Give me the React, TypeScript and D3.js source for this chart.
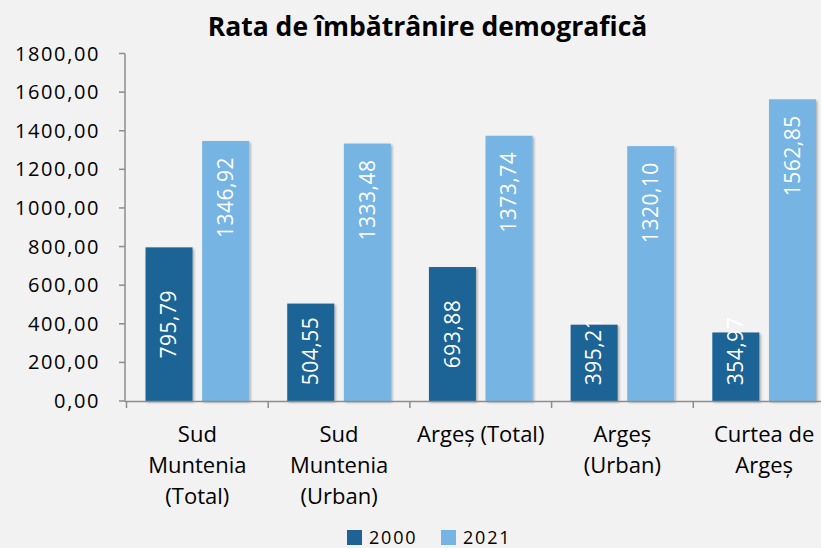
import React from "react";
import * as d3 from "d3";

const categories: string[][] = [
  ["Sud", "Muntenia", "(Total)"],
  ["Sud", "Muntenia", "(Urban)"],
  ["Argeș (Total)"],
  ["Argeș", "(Urban)"],
  ["Curtea de", "Argeș"],
];
const seriesNames = ["2000", "2021"];
const values2000 = [795.79, 504.55, 693.88, 395.21, 354.97];
const values2021 = [1346.92, 1333.48, 1373.74, 1320.1, 1562.85];
const labels2000 = ["795,79", "504,55", "693,88", "395,21", "354,97"];
const labels2021 = ["1346,92", "1333,48", "1373,74", "1320,10", "1562,85"];
const yTicks = [0, 200, 400, 600, 800, 1000, 1200, 1400, 1600, 1800];
const colors = ["#1f6396", "#76b4e3"];
const title = "Rata de îmbătrânire demografică";

const W = 821;
const H = 548;
const FONT = "'Open Sans', 'DejaVu Sans', sans-serif";

export default function App() {
  React.useEffect(() => {
    document.body.style.margin = "0";
  }, []);

  const x0 = 126.5;
  const step = 141.7;
  const keys = categories.map((_, i) => String(i));
  const x = d3
    .scaleBand<string>()
    .domain(keys)
    .range([x0, x0 + step * categories.length])
    .paddingInner(0)
    .paddingOuter(0);
  const xs = d3
    .scaleBand<string>()
    .domain(seriesNames)
    .range([0, x.bandwidth()])
    .paddingInner(0.17)
    .paddingOuter(0.336);
  const y = d3.scaleLinear().domain([0, 1800]).range([401, 53.5]);
  const y0 = y(0);
  const fmt = (v: number) => d3.format(".2f")(v).replace(".", ",");

  const series = [values2000, values2021];
  const labels = [labels2000, labels2021];
  const halfLen = 34;

  return (
    <svg width={W} height={H} style={{ display: "block", background: "#f2f2f2" }} fontFamily={FONT}>
      <defs>
        <filter id="sh" x="-20%" y="-20%" width="150%" height="150%">
          <feDropShadow dx="1.5" dy="1.5" stdDeviation="1.2" floodColor="#000" floodOpacity="0.3" />
        </filter>
      </defs>
      <rect x={0} y={0} width={W} height={H} fill="#f2f2f2" />
      <text x={427.5} y={36} textAnchor="middle" fontSize={26.5} fontWeight="bold" fill="#000">
        {title}
      </text>

      {/* y axis */}
      <line x1={x0 - 1.5} x2={x0 - 1.5} y1={y(1800)} y2={y0} stroke="#8c8c8c" strokeWidth={1.5} />
      {yTicks.map((t) => (
        <g key={t}>
          <line x1={x0 - 7.5} x2={x0 - 1.5} y1={y(t)} y2={y(t)} stroke="#8c8c8c" strokeWidth={1.5} />
          <text x={100} y={y(t)} dy="0.35em" textAnchor="end" fontSize={20} letterSpacing={1.6} fill="#000">
            {fmt(t)}
          </text>
        </g>
      ))}

      {/* bars */}
      {categories.map((_, i) =>
        seriesNames.map((s, j) => {
          const v = series[j][i];
          const bx = (x(keys[i]) as number) + (xs(s) as number);
          const bw = xs.bandwidth();
          const top = y(v);
          const cx = bx + bw / 2;
          let ly: number;
          let anchor: "end" | "middle";
          if (j === 1) {
            ly = top + 16;
            anchor = "end";
          } else {
            ly = Math.min((top + y0) / 2, y0 - 16 - halfLen);
            anchor = "middle";
          }
          return (
            <g key={s + i}>
              <rect x={bx} y={top} width={bw} height={y0 - top} fill={colors[j]} filter="url(#sh)" />
              <text
                transform={`translate(${cx},${ly}) rotate(-90)`}
                textAnchor={anchor}
                dy="0.35em"
                fontSize={21}
                letterSpacing={0.5}
                fill="#fff"
              >
                {labels[j][i]}
              </text>
            </g>
          );
        })
      )}

      {/* x axis */}
      <line x1={x0 - 1.5} x2={W} y1={y0 + 0.5} y2={y0 + 0.5} stroke="#8c8c8c" strokeWidth={1.5} />
      {keys.map((k) => (
        <line
          key={k}
          x1={(x(k) as number)}
          x2={(x(k) as number)}
          y1={y0}
          y2={y0 + 7}
          stroke="#8c8c8c"
          strokeWidth={1.5}
        />
      ))}
      {categories.map((lines, i) => (
        <text
          key={i}
          x={(x(keys[i]) as number) + x.bandwidth() / 2}
          y={442}
          textAnchor="middle"
          fontSize={22}
          fill="#000"
        >
          {lines.map((l, k) => (
            <tspan key={k} x={(x(keys[i]) as number) + x.bandwidth() / 2} dy={k === 0 ? 0 : 31}>
              {l}
            </tspan>
          ))}
        </text>
      ))}

      {/* legend */}
      {seriesNames.map((s, j) => (
        <g key={s} transform={`translate(${347 + j * 94},530)`}>
          <rect x={0} y={0} width={15} height={15} fill={colors[j]} />
          <text x={22} y={14} fontSize={18} letterSpacing={1.8} fill="#000">
            {s}
          </text>
        </g>
      ))}
    </svg>
  );
}
